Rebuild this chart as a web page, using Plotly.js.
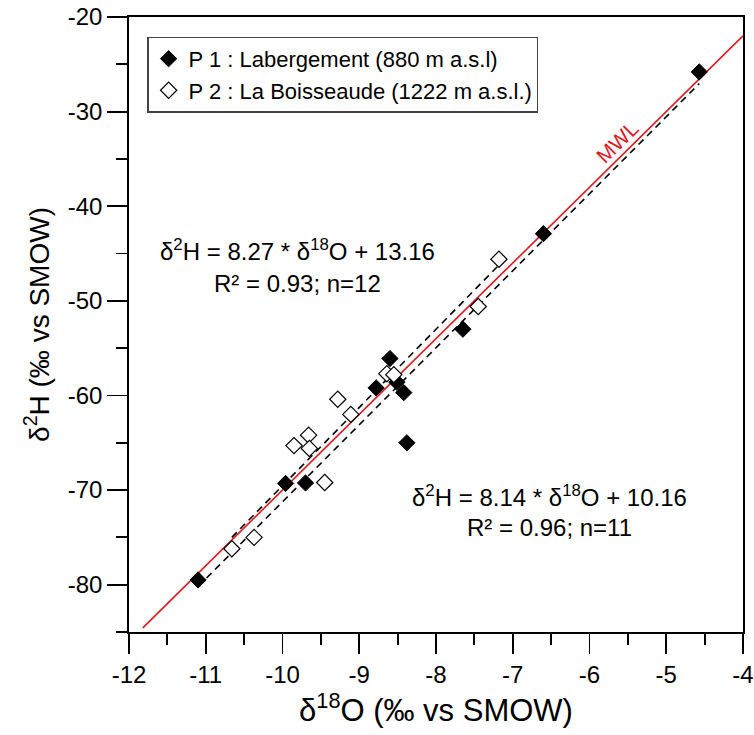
<!DOCTYPE html>
<html>
<head>
<meta charset="utf-8">
<script src="https://cdn.plot.ly/plotly-3.0.1.min.js"></script>
<style>body{margin:0;background:#fff}</style>
</head>
<body>
<div id="chart" style="width:754px;height:735px"></div>
<script>
// P1 : Labergement (filled diamonds)
const p1_d18O = [-11.10, -9.96, -9.70, -8.78, -8.60, -8.51, -8.42, -8.38, -7.65, -6.60, -4.57];
const p1_d2H  = [-79.5, -69.3, -69.25, -59.2, -56.1, -58.6, -59.7, -65.0, -53.0, -42.9, -25.8];
// P2 : La Boisseaude (open diamonds)
const p2_d18O = [-10.66, -10.37, -9.85, -9.66, -9.65, -9.45, -9.28, -9.11, -8.64, -8.55, -7.45, -7.18];
const p2_d2H  = [-76.2, -75.0, -65.3, -64.2, -65.6, -69.2, -60.4, -62.0, -57.7, -57.8, -50.6, -45.6];
// Regression lines (from the equations printed on the chart)
const p1Slope = 8.14, p1Intercept = 10.16;
const p2Slope = 8.27, p2Intercept = 13.16;
// Meteoric water line
const mwlSlope = 8, mwlIntercept = 10;
const mwlX = [-11.82, -4];
const xTicks = [-12, -11, -10, -9, -8, -7, -6, -5, -4];
const yTicks = [-80, -70, -60, -50, -40, -30, -20];

const FONT = 'Arial, "Liberation Sans", sans-serif';
const line = (m, b, xs) => xs.map(x => m * x + b);
const p1LineX = [Math.min(...p1_d18O), Math.max(...p1_d18O)];
const p2LineX = [Math.min(...p2_d18O), Math.max(...p2_d18O)];

const traces = [
  {x: mwlX, y: line(mwlSlope, mwlIntercept, mwlX), mode: 'lines', line: {color: '#e3161c', width: 1.6}, showlegend: false, hoverinfo: 'skip'},
  {x: p1LineX, y: line(p1Slope, p1Intercept, p1LineX), mode: 'lines', line: {color: 'black', width: 1.6, dash: '7px,5px'}, showlegend: false, hoverinfo: 'skip'},
  {x: p2LineX, y: line(p2Slope, p2Intercept, p2LineX), mode: 'lines', line: {color: 'black', width: 1.6, dash: '7px,5px'}, showlegend: false, hoverinfo: 'skip'},
  {x: p1_d18O, y: p1_d2H, mode: 'markers', name: 'P 1 : Labergement (880 m a.s.l)',
   marker: {symbol: 'diamond', size: 12.5, color: 'black', line: {color: 'black', width: 1}}},
  {x: p2_d18O, y: p2_d2H, mode: 'markers', name: 'P 2 : La Boisseaude (1222 m a.s.l.)',
   marker: {symbol: 'diamond', size: 12.5, color: 'white', line: {color: 'black', width: 1.2}}}
];

const axisCommon = {
  showgrid: false, zeroline: false, showline: true, linecolor: 'black', linewidth: 1.8, mirror: true,
  ticks: 'outside', ticklen: 20, tickwidth: 1.8, tickcolor: 'black',
  tickfont: {family: FONT, size: 24, color: 'black'}
};

const layout = {
  width: 754, height: 735,
  margin: {l: 129, r: 11, t: 17, b: 103},
  paper_bgcolor: 'white', plot_bgcolor: 'white',
  font: {family: FONT, color: 'black'},
  xaxis: Object.assign({}, axisCommon, {
    range: [-12, -4], tickvals: xTicks, ticktext: xTicks.map(String),
    minor: {dtick: 0.5, tick0: -12, ticks: 'outside', ticklen: 11, tickwidth: 1.8, tickcolor: 'black', showgrid: false},
    title: {text: 'δ<sup>18</sup>O (‰ vs SMOW)', font: {family: FONT, size: 31, color: 'black'}, standoff: 9}
  }),
  yaxis: Object.assign({}, axisCommon, {
    range: [-85, -20], tickvals: yTicks, ticktext: yTicks.map(String),
    minor: {dtick: 5, tick0: -85, ticks: 'outside', ticklen: 11, tickwidth: 1.8, tickcolor: 'black', showgrid: false},
    title: {text: 'δ<sup>2</sup>H (‰ vs SMOW)', font: {family: FONT, size: 28, color: 'black'}, standoff: 10}
  }),
  legend: {
    x: 0.03, y: 0.968, xanchor: 'left', yanchor: 'top',
    bgcolor: 'white', bordercolor: '#444', borderwidth: 1.2,
    font: {family: FONT, size: 22, color: 'black'},
    tracegroupgap: 0
  },
  annotations: [
    {xref: 'x', yref: 'y', x: -9.81, y: -44.64, text: 'δ<sup>2</sup>H = 8.27 * δ<sup>18</sup>O + 13.16', showarrow: false, font: {family: FONT, size: 24, color: 'black'}},
    {xref: 'x', yref: 'y', x: -9.81, y: -48.13, text: 'R² = 0.93; n=12', showarrow: false, font: {family: FONT, size: 24, color: 'black'}},
    {xref: 'x', yref: 'y', x: -6.515, y: -70.58, text: 'δ<sup>2</sup>H = 8.14 * δ<sup>18</sup>O + 10.16', showarrow: false, font: {family: FONT, size: 24, color: 'black'}},
    {xref: 'x', yref: 'y', x: -6.515, y: -73.93, text: 'R² = 0.96; n=11', showarrow: false, font: {family: FONT, size: 24, color: 'black'}},
    {xref: 'x', yref: 'y', x: -5.63, y: -33.2, text: 'MWL', textangle: -44.5, showarrow: false, font: {family: FONT, size: 21, color: '#e3161c'}}
  ]
};

Plotly.newPlot('chart', traces, layout, {displayModeBar: false, staticPlot: true});
</script>
</body>
</html>
